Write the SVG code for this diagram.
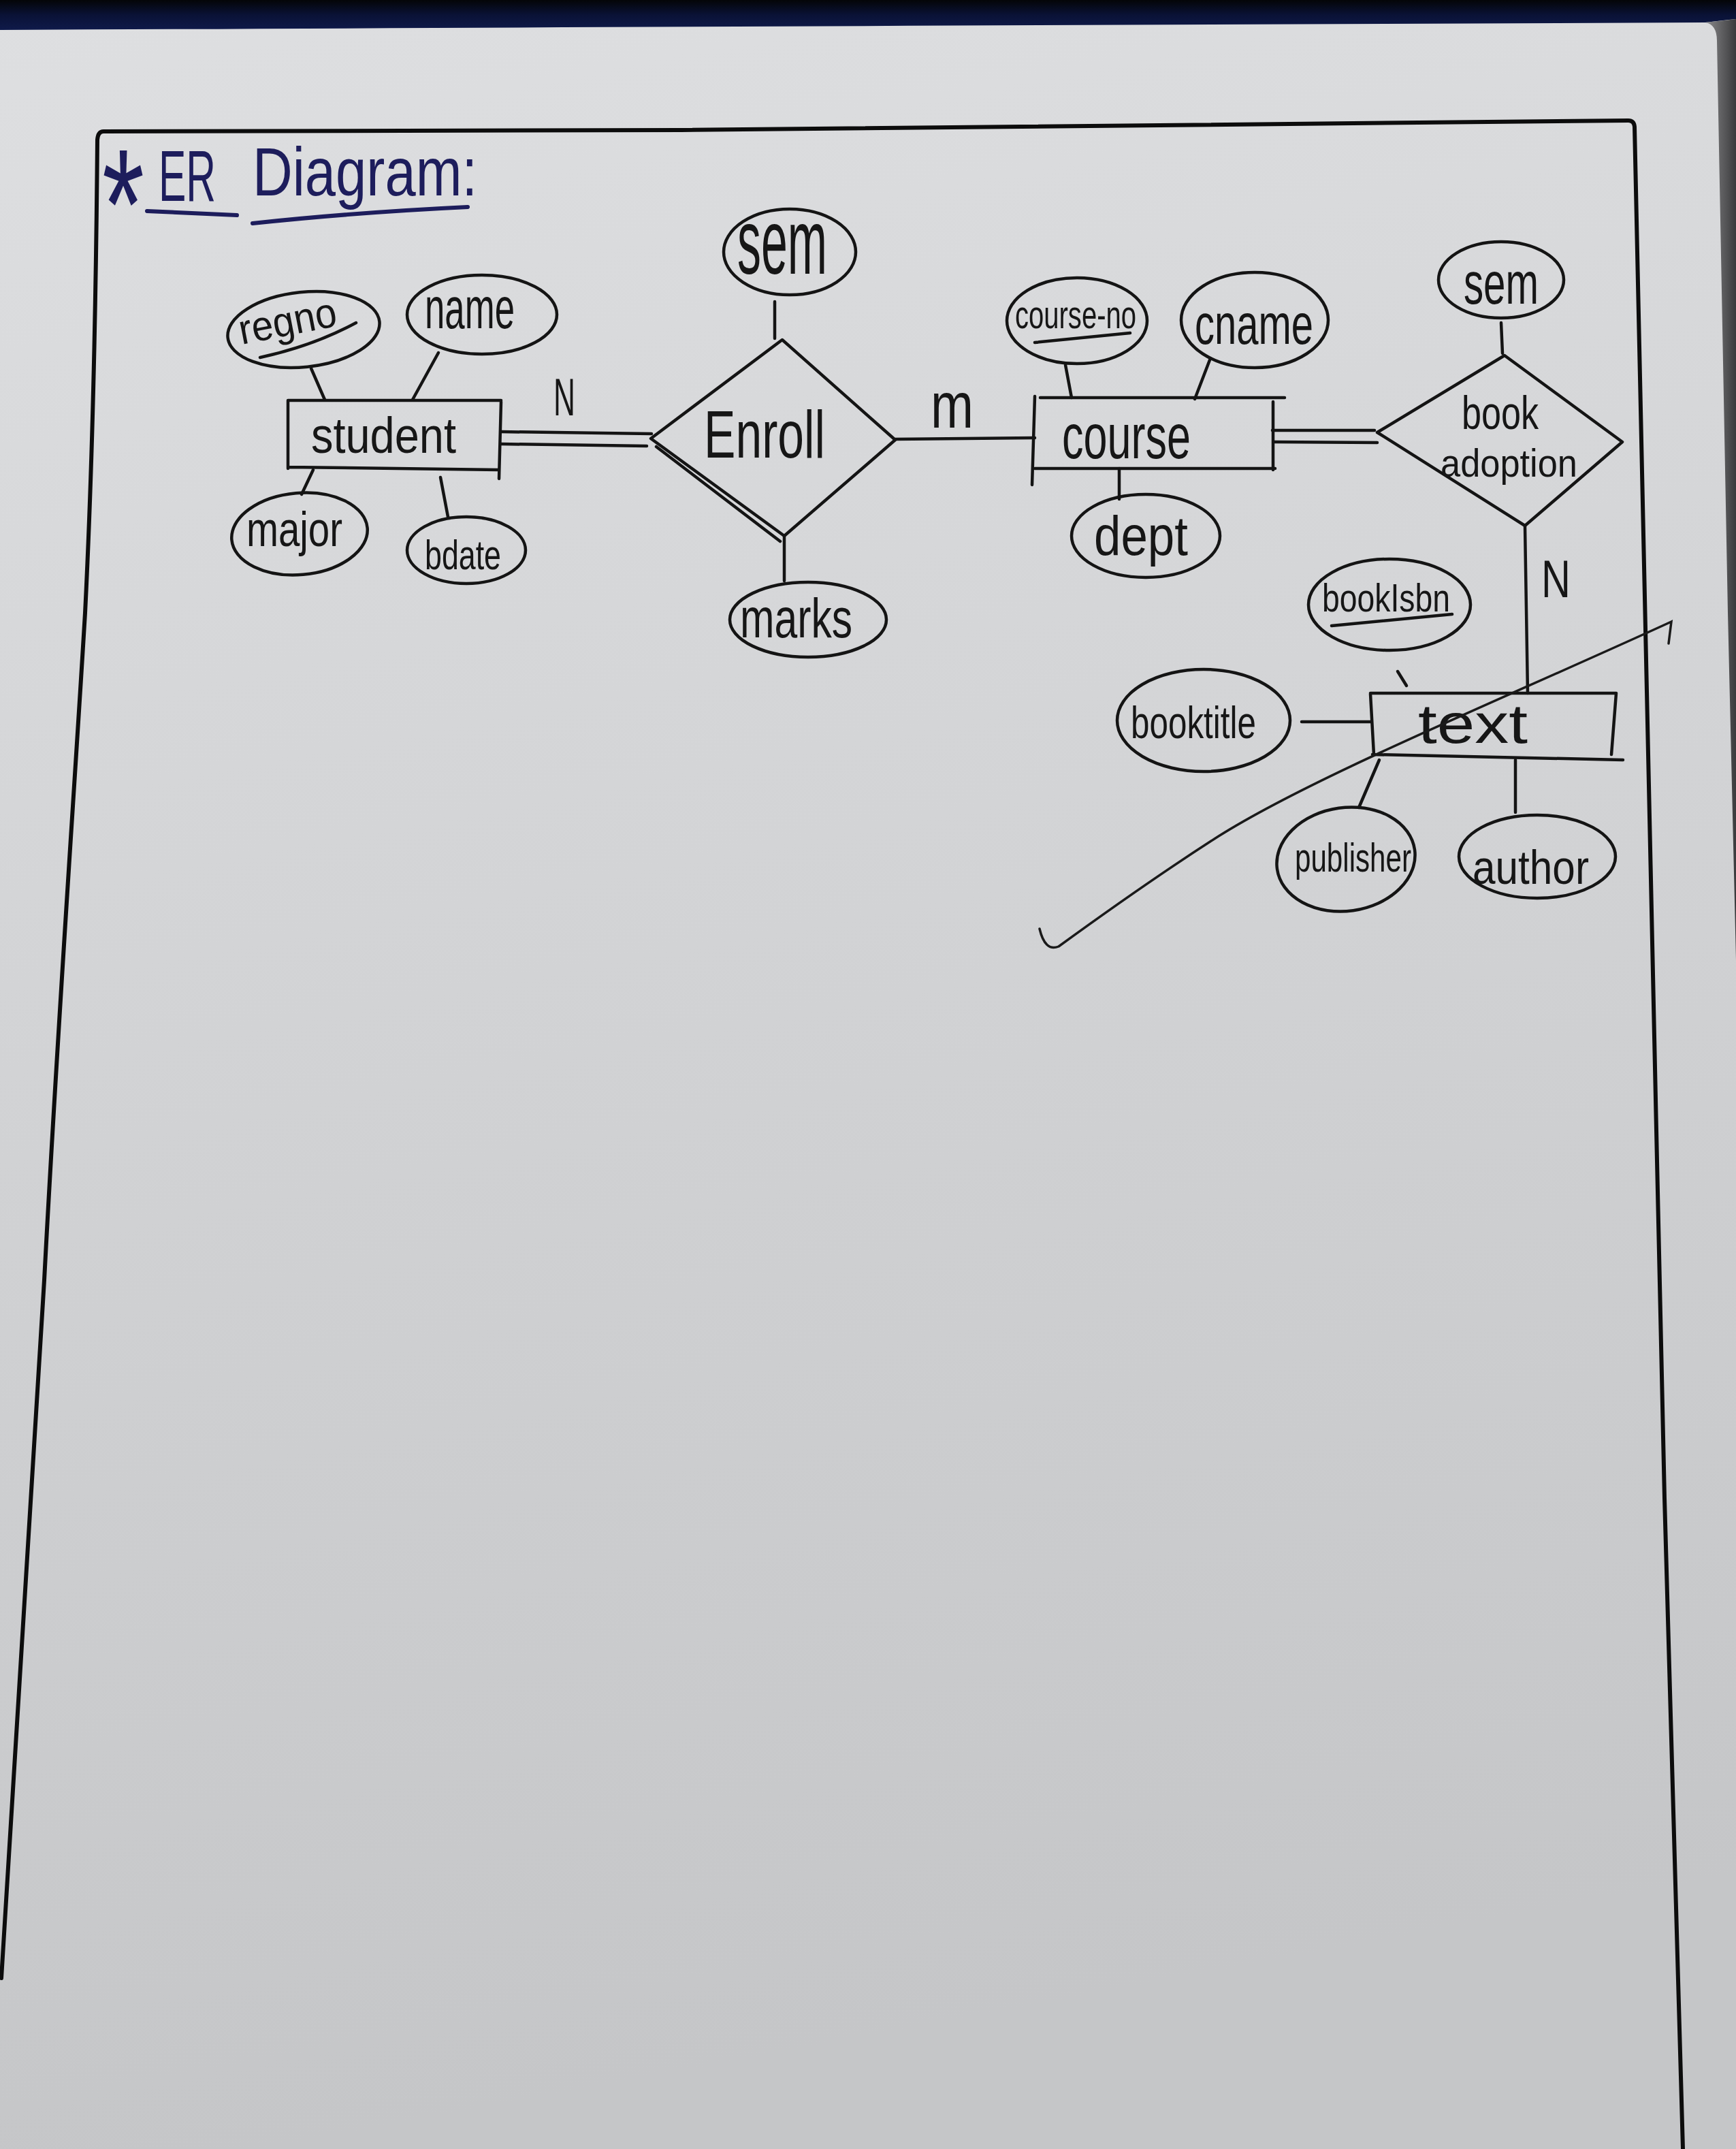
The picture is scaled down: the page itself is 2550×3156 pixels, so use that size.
<svg xmlns="http://www.w3.org/2000/svg" width="2550" height="3156" viewBox="0 0 2550 3156">
<defs>
<linearGradient id="paper" x1="0" y1="0" x2="0.15" y2="1">
<stop offset="0" stop-color="#dedfe1"/>
<stop offset="0.45" stop-color="#d3d4d6"/>
<stop offset="1" stop-color="#c5c6c8"/>
</linearGradient>
<linearGradient id="edge" x1="0" y1="0" x2="1" y2="0">
<stop offset="0" stop-color="#8a8a8c"/>
<stop offset="1" stop-color="#3a3a3c"/>
</linearGradient>
<linearGradient id="band" x1="0" y1="0" x2="0" y2="1">
<stop offset="0" stop-color="#040507"/>
<stop offset="0.5" stop-color="#0a1236"/>
<stop offset="1" stop-color="#0f1a4a"/>
</linearGradient>
<style>
.ink{fill:none;stroke:#141414;stroke-width:4.5;stroke-linecap:round;stroke-linejoin:round}
.thin{fill:none;stroke:#1a1a1a;stroke-width:3.5;stroke-linecap:round}
.frame{fill:none;stroke:#0c0c0c;stroke-width:6;stroke-linecap:round;stroke-linejoin:round}
.lbl{font-family:"Liberation Sans","DejaVu Sans",sans-serif;fill:#161616;text-anchor:start}
.title{font-family:"Liberation Sans","DejaVu Sans",sans-serif;fill:#1d1d5c}
.tul{fill:none;stroke:#1d1d5c;stroke-width:6;stroke-linecap:round}
</style>
</defs>
<!-- background / page -->
<rect x="0" y="0" width="2550" height="3156" fill="url(#paper)"/>
<path d="M0,0 H2550 V28 Q2530,30 2505,33 Q1500,37 0,44 Z" fill="url(#band)"/>
<path d="M2505,33 Q2522,36 2522,60 L2538,900 L2550,1410 L2550,28 Z" fill="url(#edge)"/>
<!-- frame -->
<path class="frame" d="M2,2905 C20,2600 45,2250 65,1880 C85,1500 110,1150 125,900 C135,700 141,450 143,205 Q144,193 152,193 L1000,191 Q1600,184 2392,177 Q2400,177 2401,186 C2410,700 2430,1500 2445,2200 C2455,2600 2465,2900 2472,3156"/>
<!-- title -->
<g id="title">
<text class="title" x="150" y="380" font-size="230" textLength="62" lengthAdjust="spacingAndGlyphs">*</text>
<text class="title" x="233" y="295" font-size="105" textLength="84" lengthAdjust="spacingAndGlyphs">ER</text>
<text class="title" x="371" y="287" font-size="100" textLength="330" lengthAdjust="spacingAndGlyphs">Diagram:</text>
<path class="tul" d="M216,310 L348,316"/>
<path class="tul" d="M371,328 Q520,312 687,304"/>
</g>
<!-- connectors -->
<g id="connectors">
<path class="ink" d="M457,541 L477,587"/>
<path class="ink" d="M644,518 L606,587"/>
<path class="ink" d="M460,690 L443,726"/>
<path class="ink" d="M647,701 L658,759"/>
<path class="ink" d="M736,634 L957,637"/>
<path class="ink" d="M736,652 L950,655"/>
<path class="ink" d="M1138,443 L1138,497"/>
<path class="ink" d="M1152,787 L1152,853"/>
<path class="ink" d="M1315,645 L1520,643"/>
<path class="ink" d="M1565,536 L1574,584"/>
<path class="ink" d="M1778,526 L1755,586"/>
<path class="ink" d="M1644,688 L1644,733"/>
<path class="ink" d="M1869,632 L2019,632"/>
<path class="ink" d="M1872,649 L2023,650"/>
<path class="ink" d="M2205,474 L2207,519"/>
<path class="ink" d="M2240,772 L2244,1018"/>
<path class="ink" d="M2053,986 L2066,1007"/>
<path class="ink" d="M1912,1060 L2013,1060"/>
<path class="ink" d="M2026,1116 L1996,1186"/>
<path class="ink" d="M2226,1116 L2226,1193"/>
</g>
<!-- entities -->
<g id="student">
<path class="ink" d="M423,588 L736,588 M423,588 L423,688 M423,686 L733,690 M736,590 L733,703"/>
<text class="lbl" x="457" y="665" font-size="75" textLength="213" lengthAdjust="spacingAndGlyphs">student</text>
</g>
<g id="course">
<path class="ink" d="M1528,584 L1887,584 M1520,582 L1516,712 M1520,688 L1873,688 M1870,590 L1870,690"/>
<text class="lbl" x="1560" y="673" font-size="92" textLength="189" lengthAdjust="spacingAndGlyphs">course</text>
</g>
<g id="text">
<path class="ink" d="M2013,1018 L2374,1018 M2013,1019 L2018,1108 M2374,1018 L2367,1108 M2016,1108 L2384,1116"/>
<text class="lbl" x="2083" y="1091" font-size="82" textLength="161" lengthAdjust="spacingAndGlyphs">text</text>
</g>
<!-- relationships -->
<g id="enroll">
<path class="ink" d="M956,644 L1149,499 L1315,646 L1152,787 Z"/>
<path class="ink" d="M964,656 L1146,795"/>
<text class="lbl" x="1034" y="672" font-size="98" textLength="178" lengthAdjust="spacingAndGlyphs">Enroll</text>
</g>
<g id="book-adoption">
<path class="ink" d="M2023,635 L2210,522 L2383,649 L2240,772 Z"/>
<text class="lbl" x="2147" y="630" font-size="68" textLength="113" lengthAdjust="spacingAndGlyphs">book</text>
<text class="lbl" x="2116" y="700" font-size="58" textLength="201" lengthAdjust="spacingAndGlyphs">adoption</text>
</g>
<!-- attributes -->
<g id="regno">
<ellipse class="ink" cx="446" cy="484" rx="112" ry="55" transform="rotate(-6 446 484)"/>
<text class="lbl" x="355" y="506" font-size="62" textLength="145" lengthAdjust="spacingAndGlyphs" transform="rotate(-11 355 506)">regno</text>
<path class="ink" d="M382,525 Q460,508 523,474"/>
</g>
<g id="name">
<ellipse class="ink" cx="708" cy="462" rx="110" ry="58"/>
<text class="lbl" x="624" y="482" font-size="86" textLength="132" lengthAdjust="spacingAndGlyphs">name</text>
</g>
<g id="major">
<ellipse class="ink" cx="440" cy="784" rx="100" ry="60" transform="rotate(-5 440 784)"/>
<text class="lbl" x="362" y="802" font-size="72" textLength="141" lengthAdjust="spacingAndGlyphs">major</text>
</g>
<g id="bdate">
<ellipse class="ink" cx="685" cy="808" rx="87" ry="49"/>
<text class="lbl" x="624" y="836" font-size="62" textLength="112" lengthAdjust="spacingAndGlyphs">bdate</text>
</g>
<g id="sem-enroll">
<ellipse class="ink" cx="1160" cy="370" rx="97" ry="63"/>
<text class="lbl" x="1083" y="402" font-size="135" textLength="132" lengthAdjust="spacingAndGlyphs">sem</text>
</g>
<g id="marks">
<ellipse class="ink" cx="1187" cy="910" rx="115" ry="55"/>
<text class="lbl" x="1087" y="936" font-size="82" textLength="165" lengthAdjust="spacingAndGlyphs">marks</text>
</g>
<g id="course-no">
<ellipse class="ink" cx="1582" cy="471" rx="103" ry="63"/>
<text class="lbl" x="1491" y="482" font-size="58" textLength="178" lengthAdjust="spacingAndGlyphs">course-no</text>
<path class="ink" d="M1520,503 L1660,489"/>
</g>
<g id="cname">
<ellipse class="ink" cx="1843" cy="470" rx="108" ry="70"/>
<text class="lbl" x="1755" y="505" font-size="84" textLength="174" lengthAdjust="spacingAndGlyphs">cname</text>
</g>
<g id="dept">
<ellipse class="ink" cx="1683" cy="787" rx="109" ry="61"/>
<text class="lbl" x="1607" y="815" font-size="82" textLength="138" lengthAdjust="spacingAndGlyphs">dept</text>
</g>
<g id="sem-book">
<ellipse class="ink" cx="2205" cy="411" rx="92" ry="56"/>
<text class="lbl" x="2150" y="446" font-size="88" textLength="110" lengthAdjust="spacingAndGlyphs">sem</text>
</g>
<g id="bookIsbn">
<ellipse class="ink" cx="2041" cy="888" rx="119" ry="67"/>
<text class="lbl" x="1942" y="898" font-size="58" textLength="188" lengthAdjust="spacingAndGlyphs">bookIsbn</text>
<path class="ink" d="M1956,919 L2133,902"/>
</g>
<g id="booktitle">
<ellipse class="ink" cx="1768" cy="1058" rx="127" ry="75"/>
<text class="lbl" x="1661" y="1084" font-size="66" textLength="184" lengthAdjust="spacingAndGlyphs">booktitle</text>
</g>
<g id="publisher">
<ellipse class="ink" cx="1977" cy="1262" rx="102" ry="76" transform="rotate(-8 1977 1262)"/>
<text class="lbl" x="1902" y="1280" font-size="60" textLength="171" lengthAdjust="spacingAndGlyphs">publisher</text>
</g>
<g id="author">
<ellipse class="ink" cx="2258" cy="1258" rx="115" ry="61"/>
<text class="lbl" x="2163" y="1298" font-size="70" textLength="171" lengthAdjust="spacingAndGlyphs">author</text>
</g>
<!-- cardinality labels -->
<g id="cardinalities">
<text class="lbl" x="813" y="610" font-size="78" textLength="32" lengthAdjust="spacingAndGlyphs">N</text>
<text class="lbl" x="1367" y="628" font-size="95" textLength="63" lengthAdjust="spacingAndGlyphs">m</text>
<text class="lbl" x="2264" y="877" font-size="78" textLength="43" lengthAdjust="spacingAndGlyphs">N</text>
</g>
<!-- strike-through stroke -->
<path class="thin" d="M2451,945 L2455,913 C2200,1030 1930,1140 1790,1228 C1690,1292 1610,1350 1555,1390 Q1535,1398 1527,1364"/>
</svg>
